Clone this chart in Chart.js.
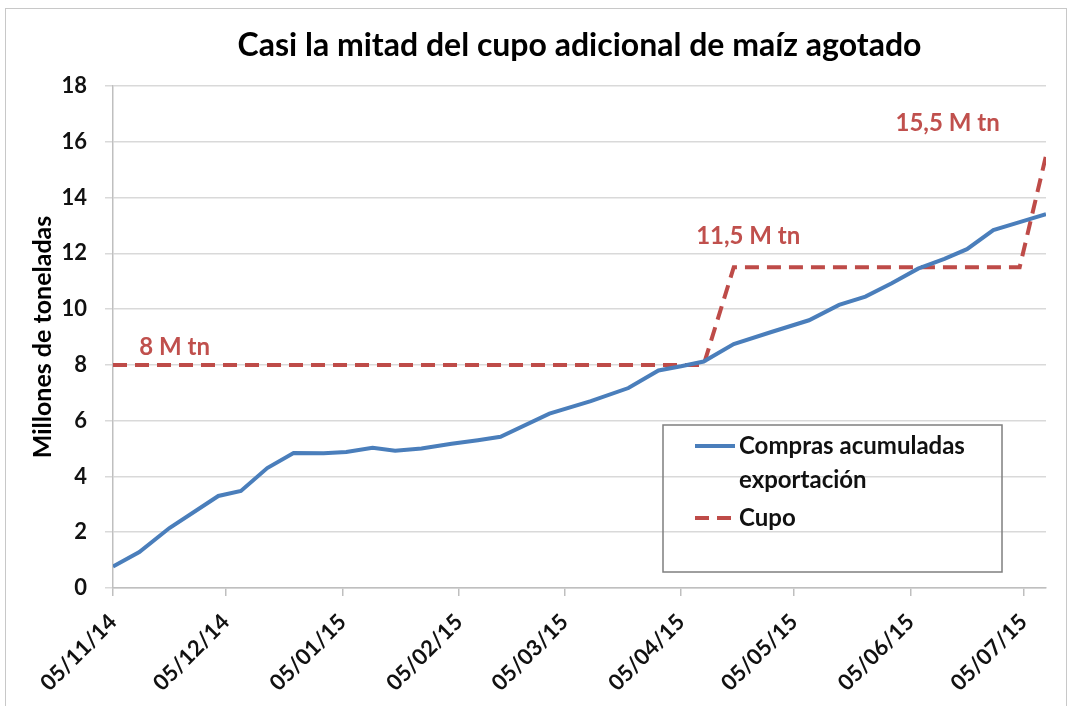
<!DOCTYPE html>
<html>
<head>
<meta charset="utf-8">
<script src="https://cdn.jsdelivr.net/npm/chart.js@4.4.1/dist/chart.umd.min.js"></script>
<style>
  body { margin: 0; background: #fff; }
  #frame { position: absolute; left: 5px; top: 8px; width: 1060px; height: 720px; border: 1px solid #c8c8c8; }
  #c { position: absolute; left: 0; top: 0; }
</style>
</head>
<body>
<div id="frame"></div>
<canvas id="c" width="1071" height="706"></canvas>
<script>
// compras acumuladas de maiz para exportacion (millones de tn)
const comprasDates = [
  '2014-11-05', '2014-11-12', '2014-11-20', '2014-12-03', '2014-12-09', '2014-12-16',
  '2014-12-23', '2014-12-31', '2015-01-06', '2015-01-13', '2015-01-19', '2015-01-26',
  '2015-02-03', '2015-02-10', '2015-02-16', '2015-03-01', '2015-03-12', '2015-03-22',
  '2015-03-30', '2015-04-05', '2015-04-11', '2015-04-19', '2015-04-29', '2015-05-09',
  '2015-05-17', '2015-05-24', '2015-05-31', '2015-06-07', '2015-06-14', '2015-06-20',
  '2015-06-27', '2015-07-04', '2015-07-11'
];
const comprasValues = [
  0.77, 1.29, 2.15, 3.3, 3.48, 4.3,
  4.84, 4.83, 4.88, 5.03, 4.92, 5.0,
  5.17, 5.3, 5.42, 6.25, 6.7, 7.17,
  7.8, 7.95, 8.12, 8.75, 9.18, 9.6,
  10.15, 10.45, 10.93, 11.45, 11.8, 12.15,
  12.83, 13.12, 13.4
];

// cupo de exportacion
const cupoDates = ['2014-11-05', '2015-04-11', '2015-04-19', '2015-07-04', '2015-07-11'];
const cupoValues = [8, 8, 11.5, 11.5, 15.5];

const tickDates = ['2014-11-05', '2014-12-05', '2015-01-05', '2015-02-05', '2015-03-05',
  '2015-04-05', '2015-05-05', '2015-06-05', '2015-07-05'];
const tickLabels = ['05/11/14', '05/12/14', '05/01/15', '05/02/15', '05/03/15',
  '05/04/15', '05/05/15', '05/06/15', '05/07/15'];

const seriesNames = ['Compras acumuladas exportación', 'Cupo'];
const chartTitle = 'Casi la mitad del cupo adicional de maíz agotado';

// rotulos del cupo (fecha, valor, texto)
const cupoNotes = [
  { date: '2014-11-12', value: 8.64, text: '8 M tn' },
  { date: '2015-04-09', value: 12.6, text: '11,5 M tn' },
  { date: '2015-06-01', value: 16.67, text: '15,5 M tn' }
];

const FONT = 'Lato, "Noto Sans", sans-serif';
const BLUE = '#4a7ebb';
const RED = '#be4b48';

function dayOf(s) {
  const [y, m, d] = s.split('-').map(Number);
  return (Date.UTC(y, m - 1, d) - Date.UTC(2014, 10, 5)) / 86400000;
}

// title centred over the plot area, like the original
const titlePlugin = {
  id: 'titlePlugin',
  afterDraw(chart) {
    const ctx = chart.ctx, a = chart.chartArea;
    ctx.save();
    ctx.font = 'bold 32px ' + FONT;
    ctx.fillStyle = '#000';
    ctx.textAlign = 'center';
    ctx.textBaseline = 'middle';
    ctx.fillText(chartTitle, (a.left + a.right) / 2, 46);
    ctx.restore();
  }
};

const legendBox = {
  id: 'legendBox',
  afterDraw(chart, args, opts) {
    const ctx = chart.ctx;
    ctx.save();
    ctx.strokeStyle = '#7f7f7f';
    ctx.lineWidth = 1.5;
    ctx.strokeRect(opts.x, opts.y, opts.w, opts.h);
    ctx.font = 'bold 24px ' + FONT;
    ctx.fillStyle = '#111';
    ctx.textBaseline = 'middle';
    let y = opts.y + 21;
    chart.data.datasets.forEach(ds => {
      ctx.strokeStyle = ds.borderColor;
      ctx.lineWidth = ds.borderWidth;
      ctx.setLineDash(ds.borderDash || []);
      ctx.beginPath();
      ctx.moveTo(opts.x + 32, y);
      ctx.lineTo(opts.x + 72, y);
      ctx.stroke();
      ctx.setLineDash([]);
      // simple word wrap
      const maxW = opts.w - 82;
      const lines = [];
      let cur = '';
      ds.label.split(' ').forEach(w => {
        const t = cur ? cur + ' ' + w : w;
        if (ctx.measureText(t).width > maxW && cur) { lines.push(cur); cur = w; } else cur = t;
      });
      lines.push(cur);
      lines.forEach((ln, i) => ctx.fillText(ln, opts.x + 76, y + i * 34));
      y += lines.length * 34 + 4;
    });
    ctx.restore();
  }
};

const noteLabels = {
  id: 'noteLabels',
  afterDatasetsDraw(chart) {
    const ctx = chart.ctx;
    const xs = chart.scales.x, ys = chart.scales.y;
    ctx.save();
    ctx.font = 'bold 24px ' + FONT;
    ctx.fillStyle = '#c0504d';
    ctx.textBaseline = 'middle';
    ctx.textAlign = 'left';
    cupoNotes.forEach(n => {
      ctx.fillText(n.text, xs.getPixelForValue(dayOf(n.date)), ys.getPixelForValue(n.value));
    });
    ctx.restore();
  }
};

new Chart(document.getElementById('c'), {
  type: 'line',
  data: {
    datasets: [
      {
        label: seriesNames[0],
        data: comprasDates.map((d, i) => ({ x: dayOf(d), y: comprasValues[i] })),
        borderColor: BLUE,
        borderWidth: 4,
        pointRadius: 0,
        tension: 0
      },
      {
        label: seriesNames[1],
        data: cupoDates.map((d, i) => ({ x: dayOf(d), y: cupoValues[i] })),
        borderColor: RED,
        borderWidth: 4,
        borderDash: [14, 8],
        pointRadius: 0,
        tension: 0
      }
    ]
  },
  options: {
    responsive: false,
    animation: false,
    layout: { padding: { left: 0, right: 25, top: 86, bottom: 0 } },
    plugins: {
      legend: { display: false },
      tooltip: { enabled: false },
      title: { display: false },
      legendBox: { x: 663, y: 425, w: 339, h: 147 }
    },
    scales: {
      x: {
        type: 'linear',
        min: 0,
        max: dayOf(comprasDates[comprasDates.length - 1]),
        afterBuildTicks: scale => { scale.ticks = tickDates.map(d => ({ value: dayOf(d) })); },
        afterFit: scale => { scale.height = 118; },
        grid: { drawOnChartArea: false, drawTicks: true, tickLength: 8, color: '#bfbfbf', lineWidth: 1.5 },
        border: { color: '#bfbfbf', width: 1.5 },
        ticks: {
          autoSkip: false,
          minRotation: 45,
          maxRotation: 45,
          padding: 13,
          color: '#111',
          font: { family: FONT, size: 22, weight: 'bold' },
          callback: (v, i) => tickLabels[i]
        }
      },
      y: {
        min: 0,
        max: 18,
        afterFit: scale => { scale.width = 113; },
        grid: { color: '#d9d9d9', lineWidth: 1.5, tickLength: 8 },
        border: { color: '#bfbfbf', width: 1.5 },
        ticks: {
          stepSize: 2,
          padding: 18,
          color: '#111',
          font: { family: FONT, size: 22, weight: 'bold' }
        },
        title: {
          display: true,
          text: 'Millones de toneladas',
          color: '#000',
          font: { family: FONT, size: 25, weight: 'bold' },
          padding: { top: 28, bottom: 0 }
        }
      }
    }
  },
  plugins: [titlePlugin, legendBox, noteLabels]
});
</script>
</body>
</html>
